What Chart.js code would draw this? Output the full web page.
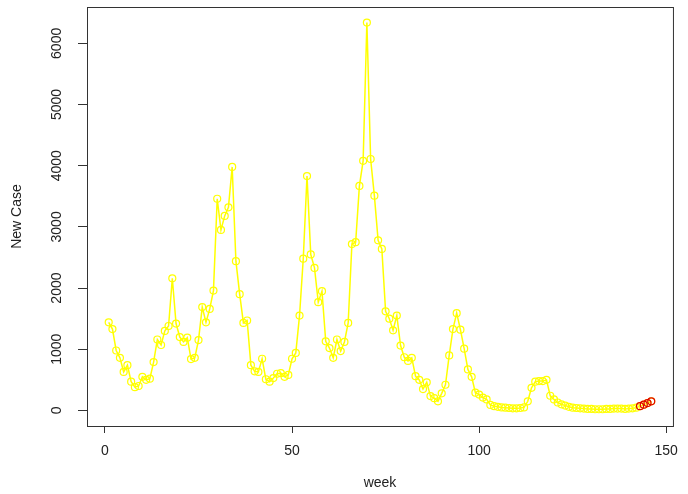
<!DOCTYPE html>
<html>
<head>
<meta charset="utf-8">
<script src="https://cdn.jsdelivr.net/npm/chart.js@4/dist/chart.umd.min.js"></script>
<style>
  html, body { margin: 0; padding: 0; background: #fff; }
  #wrap { width: 688px; height: 494px; position: relative; }
</style>
</head>
<body>
<div id="wrap"><canvas id="chart"></canvas></div>
<script>
// weekly new cases (weeks 1..142)
const cases = [
  1440, 1330, 980, 860, 630, 740, 470, 380, 400, 550,
  500, 520, 790, 1160, 1070, 1300, 1380, 2160, 1420, 1200,
  1120, 1190, 840, 860, 1150, 1690, 1440, 1660, 1960, 3460,
  2950, 3180, 3320, 3980, 2440, 1900, 1430, 1470, 740, 640,
  630, 845, 510, 470, 530, 600, 610, 550, 580, 845,
  940, 1550, 2480, 3830, 2550, 2330, 1770, 1950, 1130, 1020,
  860, 1160, 970, 1120, 1430, 2720, 2750, 3670, 4080, 6340,
  4110, 3510, 2780, 2640, 1620, 1500, 1310, 1550, 1060, 870,
  810, 860, 560, 500, 350, 460, 235, 200, 150, 280,
  420, 900, 1330, 1590, 1320, 1010, 670, 550, 290, 260,
  210, 180, 90, 70, 60, 50, 45, 40, 35, 35,
  40, 50, 150, 370, 470, 480, 480, 500, 240, 180,
  130, 100, 80, 60, 45, 40, 35, 30, 25, 25,
  20, 20, 20, 25, 25, 30, 30, 30, 25, 30,
  35, 45
];
// last weeks, drawn in red (weeks 143..146)
const forecast = [70, 95, 120, 150];

const firstWeek = 1;
const xTicks = [0, 50, 100, 150];
const yTicks = [0, 1000, 2000, 3000, 4000, 5000, 6000];

const allValues = cases.concat(forecast);
const linePts = allValues.map((v, i) => ({ x: firstWeek + i, y: v }));
const redPts = forecast.map((v, i) => ({ x: firstWeek + cases.length + i, y: v }));

const FONT = "'Liberation Sans', Arial, sans-serif";
const INK = "#222";

/* ---------- box + rotated y labels (R style) ---------- */
const rFrame = {
  id: "rFrame",
  afterDraw(chart) {
    const { ctx, chartArea: a } = chart;
    ctx.save();
    ctx.strokeStyle = "#333";
    ctx.lineWidth = 1;
    ctx.strokeRect(a.left + 0.5, a.top + 0.5, a.right - a.left, a.bottom - a.top);

    const ys = chart.scales.y;
    ctx.fillStyle = INK;
    ctx.font = "14px " + FONT;
    ctx.textAlign = "center";
    ctx.textBaseline = "middle";
    yTicks.forEach(v => {
      const py = ys.getPixelForValue(v);
      ctx.save();
      ctx.translate(a.left - 30, py);
      ctx.rotate(-Math.PI / 2);
      ctx.fillText(String(v), 0, 0);
      ctx.restore();
    });
    ctx.restore();
  }
};

const ctx = document.getElementById("chart").getContext("2d");
new Chart(ctx, {
  type: "line",
  data: {
    datasets: [
      {
        data: redPts,
        showLine: false,
        borderColor: "#e00000",
        pointRadius: 3.5,
        pointBorderWidth: 1.2,
        pointBorderColor: "#e00000",
        pointBackgroundColor: "rgba(0,0,0,0)"
      },
      {
        data: linePts,
        borderColor: "#ffff00",
        borderWidth: 1.5,
        tension: 0,
        fill: false,
        pointRadius: 3.5,
        pointBorderWidth: 1.2,
        pointBorderColor: "#ffff00",
        pointBackgroundColor: "rgba(0,0,0,0)"
      }
    ]
  },
  options: {
    responsive: true,
    maintainAspectRatio: false,
    animation: false,
    layout: { padding: { top: 7, right: 9, left: 0, bottom: 0 } },
    plugins: {
      legend: { display: false },
      tooltip: { enabled: false }
    },
    scales: {
      x: {
        type: "linear",
        min: -4.8,
        max: 151.8,
        afterBuildTicks: s => { s.ticks = xTicks.map(v => ({ value: v })); },
        afterFit: s => { s.height = 68; },
        grid: { drawOnChartArea: false, drawTicks: true, tickLength: 7, color: "#333" },
        border: { display: true, color: "#333" },
        ticks: { color: INK, font: { family: FONT, size: 14 }, padding: 10, maxRotation: 0 },
        title: {
          display: true, text: "week", color: INK,
          font: { family: FONT, size: 14 }, padding: { top: 0, bottom: 2 }
        }
      },
      y: {
        type: "linear",
        min: -254,
        max: 6594,
        afterBuildTicks: s => { s.ticks = yTicks.map(v => ({ value: v })); },
        afterFit: s => { s.width = 87; },
        grid: { drawOnChartArea: false, drawTicks: true, tickLength: 9, color: "#333" },
        border: { display: true, color: "#333" },
        ticks: { display: false },
        title: {
          display: true, text: "New Case", color: INK,
          font: { family: FONT, size: 14 }, padding: { top: 9, bottom: 0 }
        }
      }
    }
  },
  plugins: [rFrame]
});
</script>
</body>
</html>
